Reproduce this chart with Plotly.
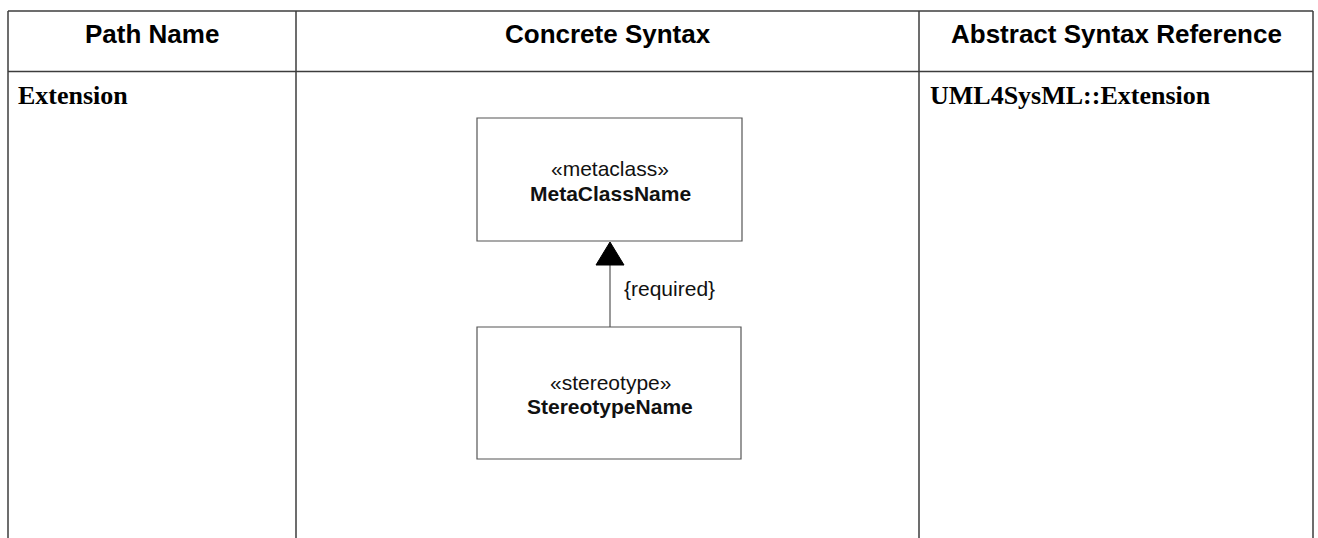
import plotly.graph_objects as go

# ---- content ----
column_headers = ["Path Name", "Concrete Syntax", "Abstract Syntax Reference"]
row_path_names = ["Extension"]
row_abstract_refs = ["UML4SysML::Extension"]
upper_box_lines = ["«metaclass»", "MetaClassName"]
lower_box_lines = ["«stereotype»", "StereotypeName"]
connector_label = ["{required}"]

# ---- layout geometry (page pixels) ----
W, H = 1318, 538
col_edges = [8, 296, 919, 1313]
table_top, header_bottom = 11, 71.5
line_color = "#3c3c3c"
box_color = "#555555"

fig = go.Figure()
shapes = []

# table borders
shapes.append(dict(type="line", x0=col_edges[0], x1=col_edges[-1], y0=table_top, y1=table_top,
                   line=dict(color=line_color, width=1.5)))
shapes.append(dict(type="line", x0=col_edges[0], x1=col_edges[-1], y0=header_bottom, y1=header_bottom,
                   line=dict(color=line_color, width=1.5)))
for xe in col_edges:
    shapes.append(dict(type="line", x0=xe, x1=xe, y0=table_top, y1=H + 20,
                       line=dict(color=line_color, width=1.5)))

# diagram boxes
upper_box = (477, 118, 742, 241)
lower_box = (477, 327, 741, 459)
for (x0, y0, x1, y1) in [upper_box, lower_box]:
    shapes.append(dict(type="rect", x0=x0, y0=y0, x1=x1, y1=y1,
                       line=dict(color=box_color, width=1.2), fillcolor="white"))

# connector line + arrowhead
cx = 610
shapes.append(dict(type="line", x0=cx, x1=cx, y0=265, y1=lower_box[1],
                   line=dict(color=box_color, width=1.2)))
shapes.append(dict(type="path", path=f"M {cx-14},265 L {cx},242 L {cx+14},265 Z",
                   fillcolor="black", line=dict(color="black", width=1)))

annotations = []
head_font = dict(family="Liberation Sans, Arial, sans-serif", size=26, color="black")
for i, h in enumerate(column_headers):
    annotations.append(dict(x=(col_edges[i] + col_edges[i + 1]) / 2, y=34, text=f"<b>{h}</b>",
                            showarrow=False, xanchor="center", yanchor="middle", font=head_font))

body_font = dict(family="Liberation Serif, Times New Roman, serif", size=26, color="black")
annotations.append(dict(x=16, y=95, text=f"<b>{row_path_names[0]}</b>", showarrow=False,
                        xanchor="left", yanchor="middle", font=body_font))
annotations.append(dict(x=928, y=95, text=f"<b>{row_abstract_refs[0]}</b>", showarrow=False,
                        xanchor="left", yanchor="middle", font=body_font))

diag_font = dict(family="Liberation Sans, Arial, sans-serif", size=21, color="#111111")
annotations.append(dict(x=610, y=168, text=upper_box_lines[0], showarrow=False,
                        xanchor="center", yanchor="middle", font=diag_font))
annotations.append(dict(x=610, y=193, text=f"<b>{upper_box_lines[1]}</b>", showarrow=False,
                        xanchor="center", yanchor="middle", font=diag_font))
annotations.append(dict(x=610, y=382, text=lower_box_lines[0], showarrow=False,
                        xanchor="center", yanchor="middle", font=diag_font))
annotations.append(dict(x=610, y=406, text=f"<b>{lower_box_lines[1]}</b>", showarrow=False,
                        xanchor="center", yanchor="middle", font=diag_font))
annotations.append(dict(x=622, y=288, text=connector_label[0], showarrow=False,
                        xanchor="left", yanchor="middle", font=diag_font))

fig.update_layout(
    width=W, height=H,
    margin=dict(l=0, r=0, t=0, b=0),
    paper_bgcolor="white", plot_bgcolor="white",
    xaxis=dict(range=[0, W], visible=False, fixedrange=True),
    yaxis=dict(range=[H, 0], visible=False, fixedrange=True),
    shapes=shapes, annotations=annotations, showlegend=False,
)
fig.write_html(
    "out.html",
    config=dict(displayModeBar=False),
    post_script="document.body.style.margin='0';document.body.style.overflow='hidden';",
)
